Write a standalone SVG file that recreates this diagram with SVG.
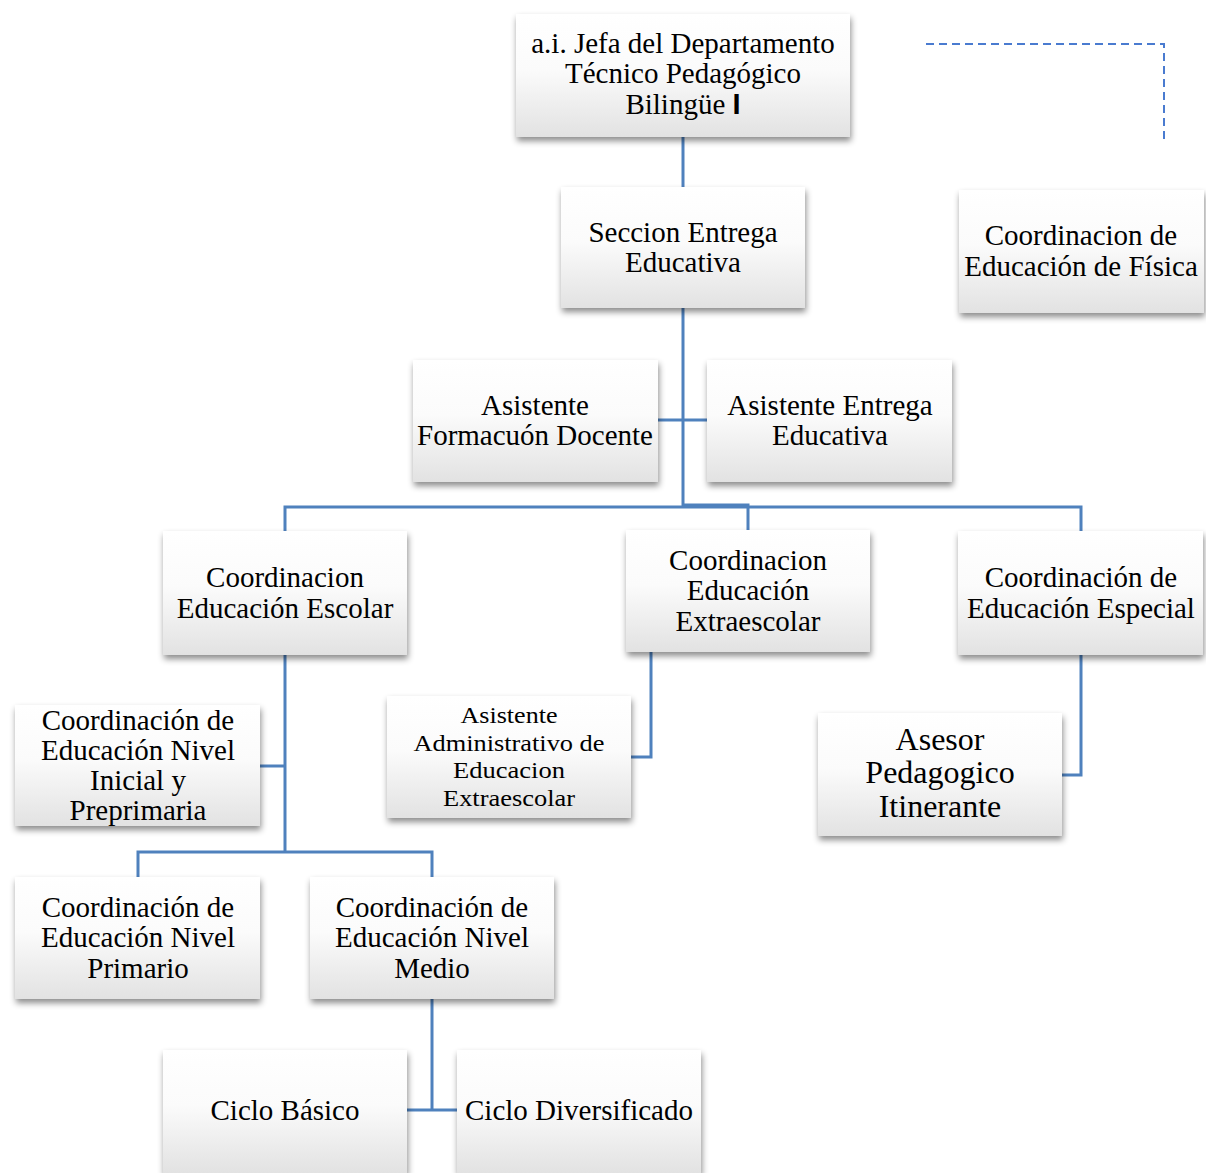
<svg xmlns="http://www.w3.org/2000/svg" width="1206" height="1173" viewBox="0 0 1206 1173">
<defs>
<linearGradient id="g" x1="0" y1="0" x2="0" y2="1">
<stop offset="0" stop-color="#ffffff"/>
<stop offset="0.45" stop-color="#fbfbfb"/>
<stop offset="1" stop-color="#e2e2e2"/>
</linearGradient>
<filter id="sh" x="-10%" y="-10%" width="125%" height="135%">
<feDropShadow dx="1" dy="4" stdDeviation="3" flood-color="#000" flood-opacity="0.45"/>
</filter>
</defs>
<style>
.box{fill:url(#g);filter:url(#sh);}
.t{font-family:"Liberation Serif","Times New Roman",serif;font-size:29px;fill:#000;text-anchor:middle;}
.s{font-size:24px;}
.l{font-size:32px;}
.c{fill:none;stroke:#4f81bd;stroke-width:3;}
.d{fill:none;stroke:#4a7bd0;stroke-width:2;stroke-dasharray:8,5;}
</style>
<rect width="1206" height="1173" fill="#ffffff"/>
<g id="connectors">
<path class="c" d="M683,137 V187"/>
<path class="c" d="M683,308 V505 H748 V530"/>
<path class="c" d="M658,420 H707"/>
<path class="c" d="M285,531 V507 H1081 V531"/>
<path class="c" d="M285,655 V852"/>
<path class="c" d="M260,766 H285"/>
<path class="c" d="M138,877 V852 H432 V877"/>
<path class="c" d="M651,652 V757 H631"/>
<path class="c" d="M1081,655 V775 H1062"/>
<path class="c" d="M432,999 V1110"/>
<path class="c" d="M407,1110 H457"/>
<path class="d" d="M926,44 H1164 V143"/>
</g>
<g id="n1"><rect class="box" x="516" y="14" width="334" height="123"/>
<text class="t" x="683" y="53">a.i. Jefa del Departamento</text>
<text class="t" x="683" y="83">Técnico Pedagógico</text>
<text class="t" x="683" y="114">Bilingüe <tspan font-family="Liberation Sans, Arial, sans-serif" font-weight="bold">I</tspan></text></g>
<g id="n2"><rect class="box" x="561" y="187" width="244" height="121"/>
<text class="t" x="683" y="242">Seccion Entrega</text>
<text class="t" x="683" y="272">Educativa</text></g>
<g id="n3"><rect class="box" x="959" y="190" width="245" height="123"/>
<text class="t" x="1081" y="245">Coordinacion de</text>
<text class="t" x="1081" y="276">Educación de Física</text></g>
<g id="n4"><rect class="box" x="413" y="360" width="245" height="122"/>
<text class="t" x="535" y="415">Asistente</text>
<text class="t" x="535" y="445">Formacuón Docente</text></g>
<g id="n5"><rect class="box" x="707" y="360" width="245" height="122"/>
<text class="t" x="830" y="415">Asistente Entrega</text>
<text class="t" x="830" y="445">Educativa</text></g>
<g id="n6"><rect class="box" x="163" y="531" width="244" height="124"/>
<text class="t" x="285" y="587">Coordinacion</text>
<text class="t" x="285" y="618">Educación Escolar</text></g>
<g id="n7"><rect class="box" x="626" y="530" width="244" height="122"/>
<text class="t" x="748" y="570">Coordinacion</text>
<text class="t" x="748" y="600">Educación</text>
<text class="t" x="748" y="631">Extraescolar</text></g>
<g id="n8"><rect class="box" x="958" y="531" width="245" height="124"/>
<text class="t" x="1081" y="587">Coordinación de</text>
<text class="t" x="1081" y="618">Educación Especial</text></g>
<g id="n9"><rect class="box" x="15" y="705" width="245" height="121"/>
<text class="t" x="138" y="730">Coordinación de</text>
<text class="t" x="138" y="760">Educación Nivel</text>
<text class="t" x="138" y="790">Inicial y</text>
<text class="t" x="138" y="820">Preprimaria</text></g>
<g id="n10"><rect class="box" x="387" y="696" width="244" height="122"/>
<text class="t s" x="509" y="723" textLength="97" lengthAdjust="spacingAndGlyphs">Asistente</text>
<text class="t s" x="509" y="751" textLength="191" lengthAdjust="spacingAndGlyphs">Administrativo de</text>
<text class="t s" x="509" y="778" textLength="112" lengthAdjust="spacingAndGlyphs">Educacion</text>
<text class="t s" x="509" y="806" textLength="132" lengthAdjust="spacingAndGlyphs">Extraescolar</text></g>
<g id="n11"><rect class="box" x="818" y="713" width="244" height="123"/>
<text class="t l" x="940" y="750">Asesor</text>
<text class="t l" x="940" y="783">Pedagogico</text>
<text class="t l" x="940" y="817">Itinerante</text></g>
<g id="n12"><rect class="box" x="15" y="877" width="245" height="122"/>
<text class="t" x="138" y="917">Coordinación de</text>
<text class="t" x="138" y="947">Educación Nivel</text>
<text class="t" x="138" y="978">Primario</text></g>
<g id="n13"><rect class="box" x="310" y="877" width="244" height="122"/>
<text class="t" x="432" y="917">Coordinación de</text>
<text class="t" x="432" y="947">Educación Nivel</text>
<text class="t" x="432" y="978">Medio</text></g>
<g id="n14"><rect class="box" x="163" y="1050" width="244" height="123"/>
<text class="t" x="285" y="1120">Ciclo Básico</text></g>
<g id="n15"><rect class="box" x="457" y="1050" width="244" height="123"/>
<text class="t" x="579" y="1120">Ciclo Diversificado</text></g>
</svg>
